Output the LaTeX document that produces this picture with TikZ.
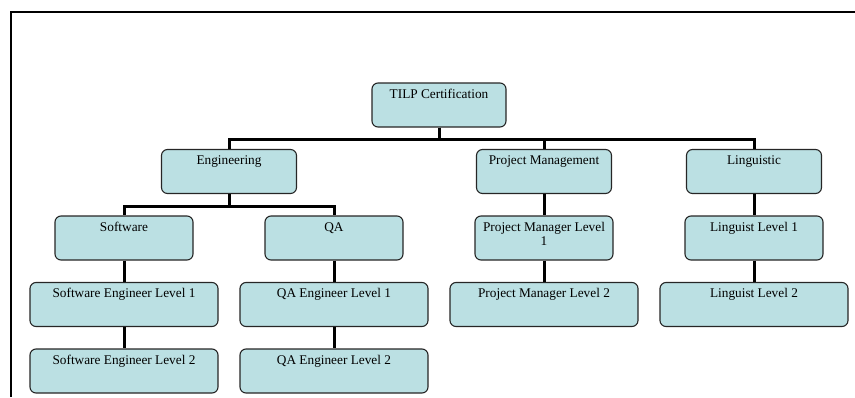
\documentclass[tikz,border=0pt]{standalone}
\usepackage{fontspec}
\setmainfont{Liberation Serif}
\usepackage{tikz}
\usetikzlibrary{trees}

\definecolor{boxfill}{RGB}{187,224,227}

\begin{document}
\begin{tikzpicture}[x=1pt, y=1pt,
			      level distance=66.5pt,
			      level 1/.style={sibling distance=210pt, minimum width=135pt},
			      level 2/.style={sibling distance=210pt, minimum width=138pt},
			      level 3/.style={minimum width=188pt},
			      every node/.style={rectangle, rounded corners=6pt, draw=black!85, line width=1.1pt,
			          fill=boxfill, align=center, inner ysep=3pt,
			          text height=12pt, text depth=26pt,
			          font=\fontsize{13.3}{14.5}\selectfont},
			      edge from parent/.style={draw, line width=3pt},
			      edge from parent path={(\tikzparentnode.south) -- +(0,-12pt) -| (\tikzchildnode.north)}]
		      \useasboundingbox (0,0) rectangle (855,-397);
		      \draw[line width=2pt] (11,-397) -- (11,-11.5) -- (855,-11.5);
		      \node[minimum width=134pt] (cert) at (439,-105) {TILP Certification}
		      child {node (eng) {Engineering}
				      child {node (soft) {Software}
						      child {node (soft1) {Software Engineer Level 1}
								      child {node (soft2) {Software Engineer Level 2}}}}
				      child {node (qa) {QA}
						      child {node (qa1) {QA Engineer Level 1}
								      child {node (qa2) {QA Engineer Level 2}}}}
			      }
		      child[xshift=105pt] {node (pm) {Project Management}
				      child {node[text height=26.5pt, text depth=11.5pt] (pm1) {Project Manager Level\\1}
						      child {node (pm2) {Project Manager Level 2}}}
			      }
		      child[xshift=105pt] {node (ling) {Linguistic}
				      child {node (ling1) {Linguist Level 1}
						      child {node (ling2) {Linguist Level 2}}}
			      };
	      \end{tikzpicture}
\end{document}
